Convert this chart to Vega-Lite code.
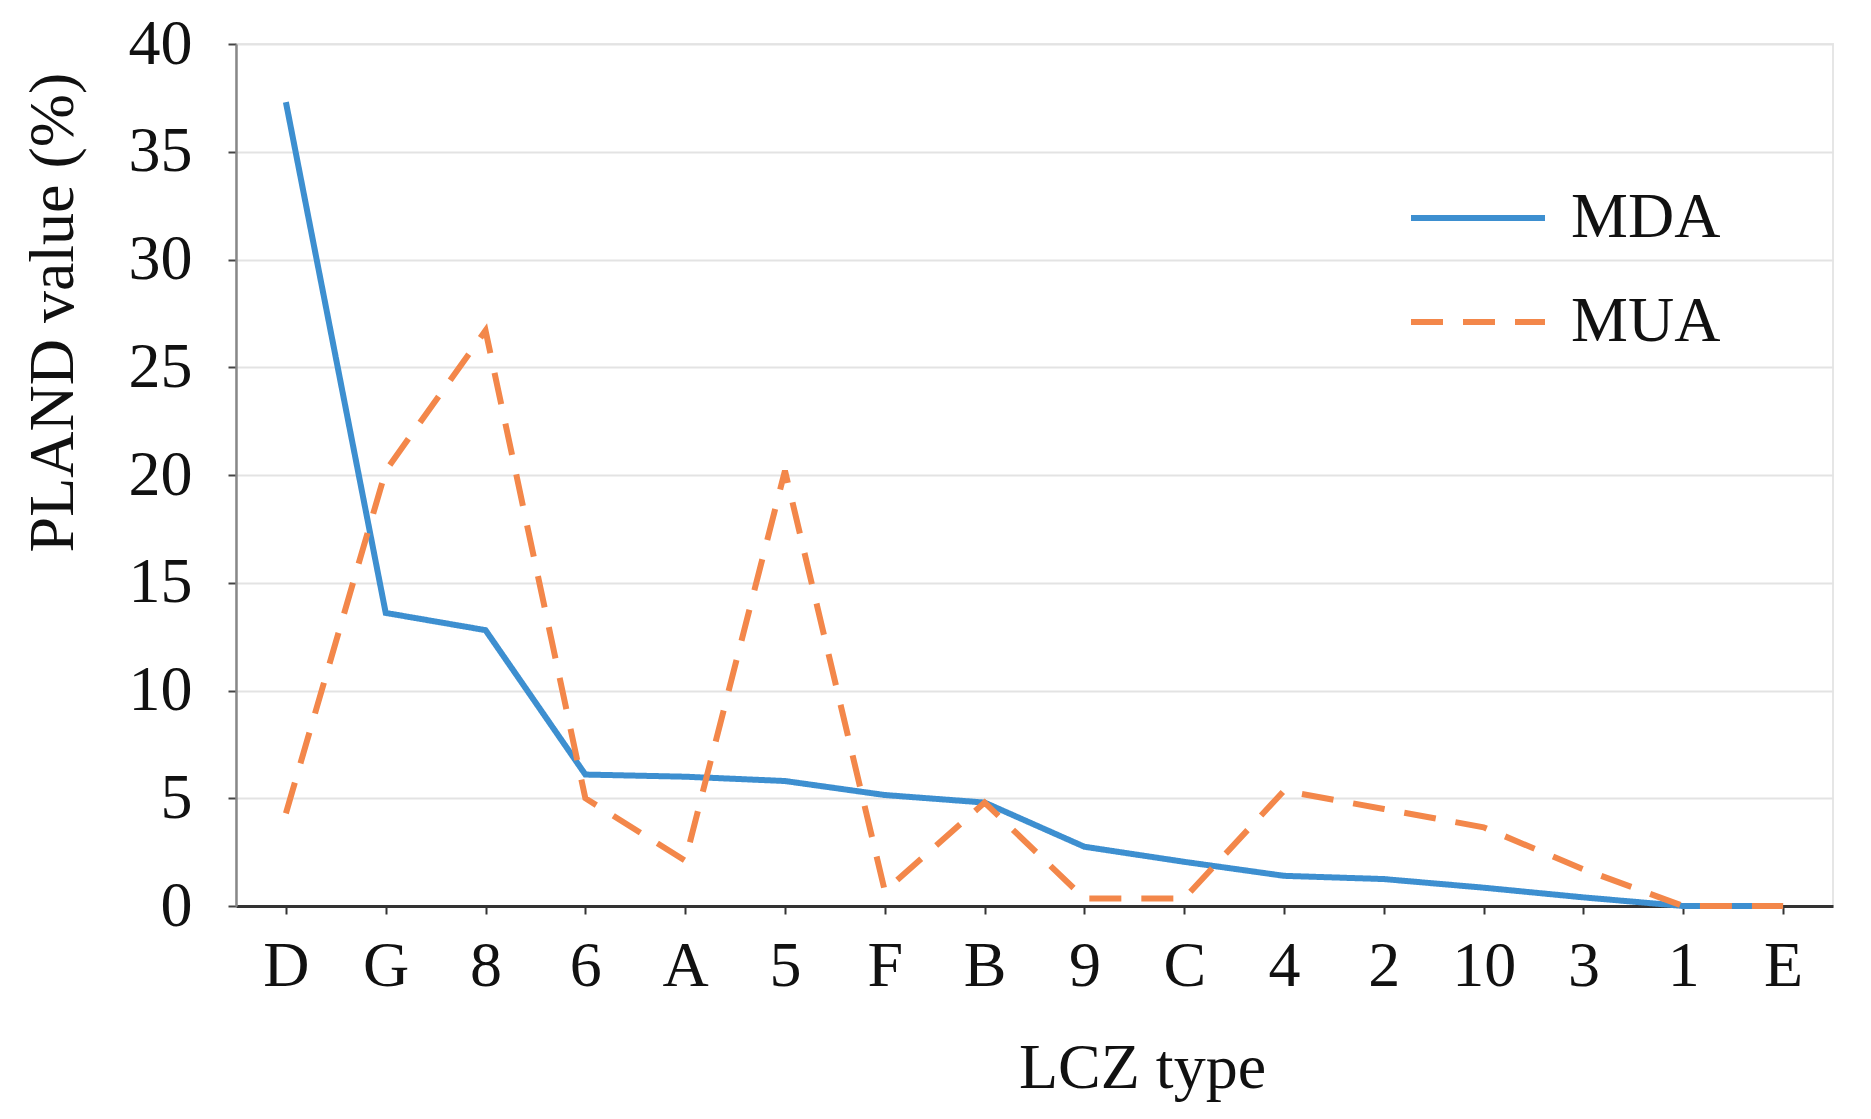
{
  "$schema": "https://vega.github.io/schema/vega-lite/v6.json",
  "description": "PLAND value by LCZ type for MDA and MUA",
  "width": 1597,
  "height": 862,
  "autosize": "none",
  "padding": {"left": 236, "top": 44, "right": 38, "bottom": 213},
  "background": "white",
  "config": {
    "font": "Liberation Serif",
    "view": {"stroke": "#e6e6e6", "strokeWidth": 2}
  },
  "data": {
    "values": [
      {"lcz": "D", "series": "MDA", "value": 37.3},
      {"lcz": "G", "series": "MDA", "value": 13.6},
      {"lcz": "8", "series": "MDA", "value": 12.8},
      {"lcz": "6", "series": "MDA", "value": 6.1},
      {"lcz": "A", "series": "MDA", "value": 6.0},
      {"lcz": "5", "series": "MDA", "value": 5.8},
      {"lcz": "F", "series": "MDA", "value": 5.15},
      {"lcz": "B", "series": "MDA", "value": 4.8},
      {"lcz": "9", "series": "MDA", "value": 2.75},
      {"lcz": "C", "series": "MDA", "value": 2.05},
      {"lcz": "4", "series": "MDA", "value": 1.4},
      {"lcz": "2", "series": "MDA", "value": 1.25},
      {"lcz": "10", "series": "MDA", "value": 0.85},
      {"lcz": "3", "series": "MDA", "value": 0.4},
      {"lcz": "1", "series": "MDA", "value": 0},
      {"lcz": "E", "series": "MDA", "value": 0},
      {"lcz": "D", "series": "MUA", "value": 4.3},
      {"lcz": "G", "series": "MUA", "value": 20.2},
      {"lcz": "8", "series": "MUA", "value": 26.7},
      {"lcz": "6", "series": "MUA", "value": 5.0},
      {"lcz": "A", "series": "MUA", "value": 2.1},
      {"lcz": "5", "series": "MUA", "value": 20.2},
      {"lcz": "F", "series": "MUA", "value": 0.7},
      {"lcz": "B", "series": "MUA", "value": 4.8},
      {"lcz": "9", "series": "MUA", "value": 0.35},
      {"lcz": "C", "series": "MUA", "value": 0.35},
      {"lcz": "4", "series": "MUA", "value": 5.35},
      {"lcz": "2", "series": "MUA", "value": 4.5},
      {"lcz": "10", "series": "MUA", "value": 3.65},
      {"lcz": "3", "series": "MUA", "value": 1.7},
      {"lcz": "1", "series": "MUA", "value": 0},
      {"lcz": "E", "series": "MUA", "value": 0}
    ]
  },
  "mark": {"type": "line", "strokeWidth": 6, "clip": false},
  "encoding": {
    "x": {
      "field": "lcz",
      "type": "ordinal",
      "sort": ["D", "G", "8", "6", "A", "5", "F", "B", "9", "C", "4", "2", "10", "3", "1", "E"],
      "scale": {"type": "point", "padding": 0.5},
      "title": "LCZ type",
      "axis": {
        "labelAngle": 0,
        "labelFontSize": 64,
        "labelColor": "#111",
        "labelBaseline": "alphabetic",
        "labelPadding": 71,
        "domainColor": "#333",
        "domainWidth": 3,
        "tickColor": "#333",
        "tickWidth": 2,
        "tickSize": 8,
        "grid": false,
        "titleFontSize": 64,
        "titleFontWeight": "normal",
        "titleColor": "#111",
        "titleBaseline": "alphabetic",
        "titleAlign": "center",
        "titleX": 906,
        "titleY": 181
      }
    },
    "y": {
      "field": "value",
      "type": "quantitative",
      "scale": {"domain": [0, 40], "nice": false, "zero": true},
      "title": "PLAND value (%)",
      "axis": {
        "values": [0, 5, 10, 15, 20, 25, 30, 35, 40],
        "labelFontSize": 64,
        "labelColor": "#111",
        "labelPadding": 36,
        "domainColor": "#888",
        "domainWidth": 2.5,
        "tickColor": "#444",
        "tickWidth": 2,
        "tickSize": 8,
        "gridColor": "#e3e3e3",
        "gridWidth": 2,
        "titleFontSize": 64,
        "titleFontWeight": "normal",
        "titleColor": "#111",
        "titleAngle": -90,
        "titleBaseline": "alphabetic",
        "titleAlign": "center",
        "titleX": -164,
        "titleY": 268
      }
    },
    "color": {
      "field": "series",
      "type": "nominal",
      "scale": {"domain": ["MDA", "MUA"], "range": ["#3d8fd0", "#f3874a"]},
      "legend": {
        "title": null,
        "orient": "none",
        "legendX": 1172,
        "legendY": 104,
        "symbolType": "stroke",
        "symbolSize": 17956,
        "symbolStrokeWidth": 6,
        "labelFontSize": 64,
        "labelColor": "#111",
        "labelOffset": 23,
        "rowPadding": 2,
        "padding": 0
      }
    },
    "strokeDash": {
      "field": "series",
      "type": "nominal",
      "scale": {"domain": ["MDA", "MUA"], "range": [[1, 0], [32, 20]]},
      "legend": null
    }
  }
}
